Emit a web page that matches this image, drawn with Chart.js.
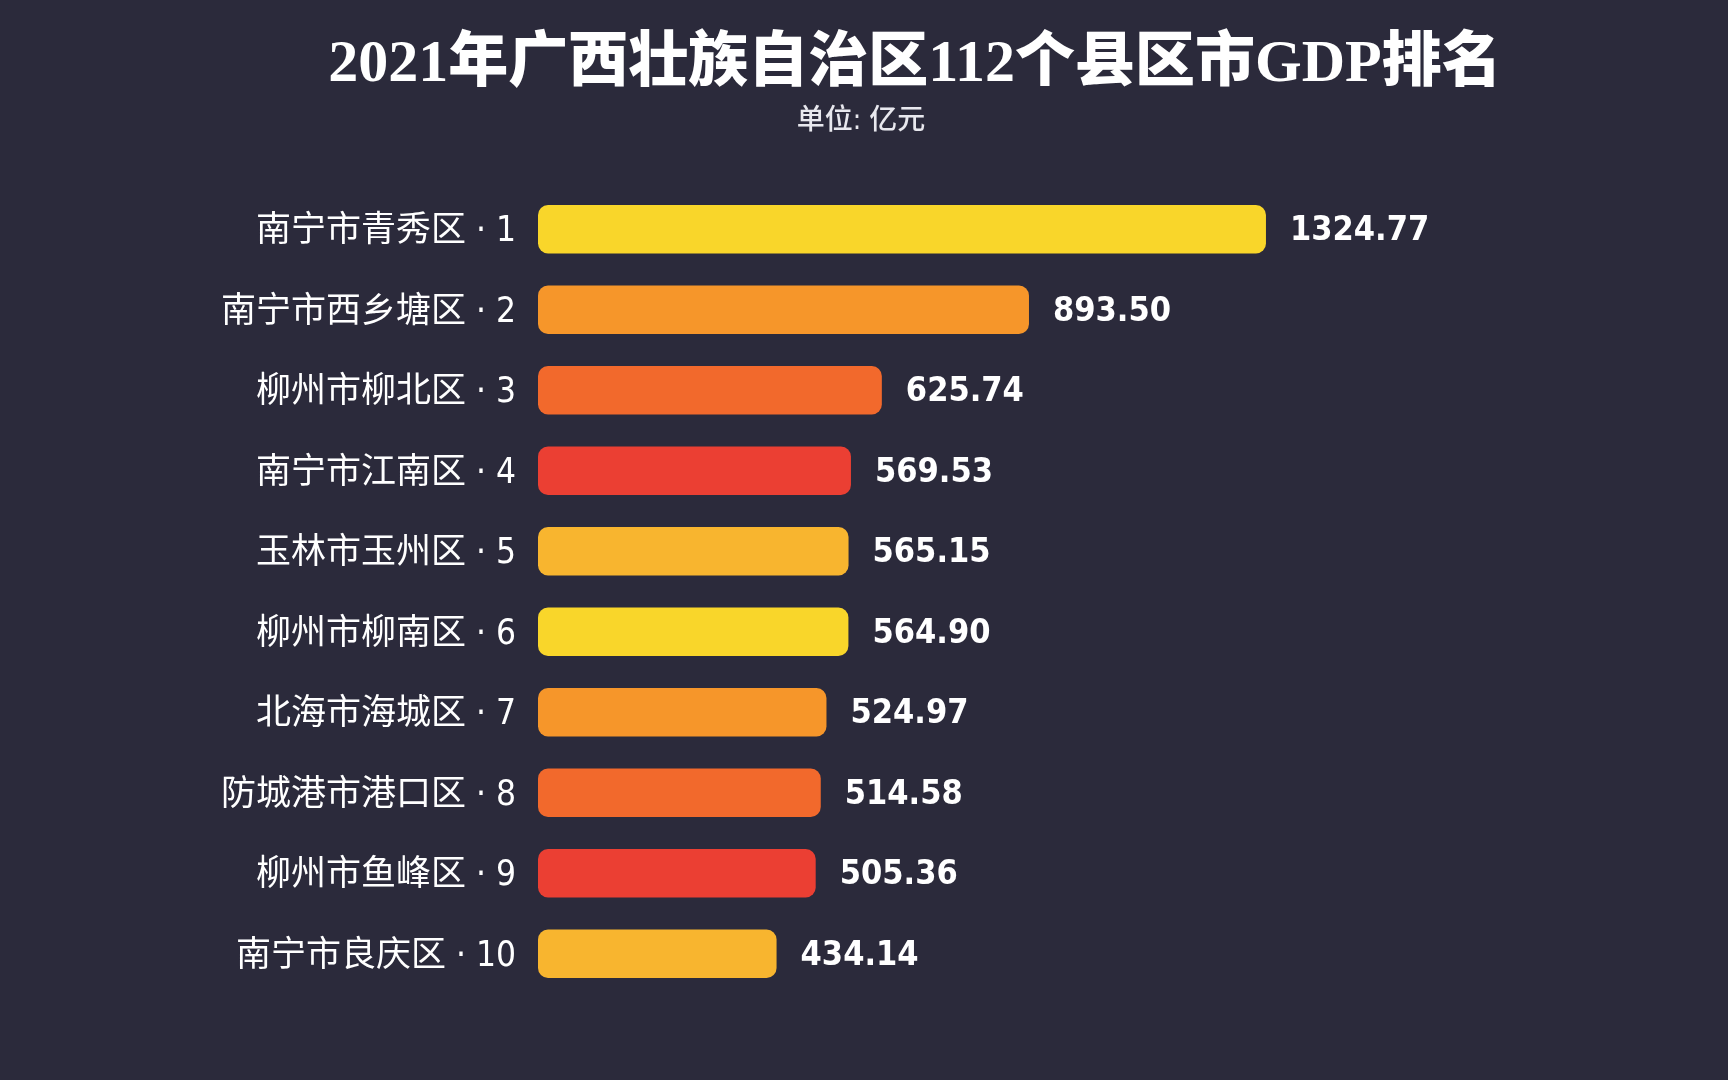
<!DOCTYPE html>
<html>
<head>
<meta charset="utf-8">
<script src="https://cdn.jsdelivr.net/npm/chart.js@4.4.1/dist/chart.umd.min.js"></script>
<style>
    html, body {
        margin: 0;
        padding: 0;
        background: #2b2a3b;
        overflow: hidden;
    }
    #wrap {
        position: relative;
        width: 1728px;
        height: 1080px;
    }
    #title {
        position: absolute;
        left: 0;
        width: 1830px;
        top: 25px;
        text-align: center;
        color: #ffffff;
        font-family: "Liberation Serif", "Noto Sans CJK SC", serif;
        font-weight: 900;
        font-size: 60px;
        line-height: 72px;
    }
    #subtitle {
        position: absolute;
        left: 0;
        width: 1722px;
        top: 102px;
        text-align: center;
        color: #e8e8ee;
        font-family: "DejaVu Sans Condensed", "Noto Sans CJK SC", sans-serif;
        font-weight: 500;
        font-size: 28px;
        line-height: 36px;
    }
</style>
</head>
<body>
<div id="wrap">
    <div id="title">2021年广西壮族自治区112个县区市GDP排名</div>
    <div id="subtitle">单位: 亿元</div>
    <canvas id="GdpRank" width="1728" height="1080"></canvas>
</div>
<script>
const districts = ["南宁市青秀区", "南宁市西乡塘区", "柳州市柳北区", "南宁市江南区", "玉林市玉州区",
    "柳州市柳南区", "北海市海城区", "防城港市港口区", "柳州市鱼峰区", "南宁市良庆区"];
const ranks = [1, 2, 3, 4, 5, 6, 7, 8, 9, 10];
const gdp = [1324.77, 893.50, 625.74, 569.53, 565.15, 564.90, 524.97, 514.58, 505.36, 434.14];
const barColors = ["#f9d62a", "#f6962a", "#f2692c", "#eb3f33", "#f8b52f",
    "#f9d62a", "#f6962a", "#f2692c", "#eb3f33", "#f8b52f"];

const labels = districts.map((d, i) => d + " · " + ranks[i]);

// draws the value text just past the end of each bar
const valueLabels = {
    id: "valueLabels",
    afterDatasetsDraw(chart) {
        const ctx = chart.ctx;
        const meta = chart.getDatasetMeta(0);
        ctx.save();
        ctx.fillStyle = "#ffffff";
        ctx.font = "bold 34px 'DejaVu Sans Condensed', 'DejaVu Sans', sans-serif";
        ctx.textAlign = "left";
        ctx.textBaseline = "middle";
        meta.data.forEach((bar, i) => {
            ctx.fillText(gdp[i].toFixed(2), bar.x + 24, bar.y + 2);
        });
        ctx.restore();
    }
};

function GdpRankChart() {
    const ctx = document.getElementById("GdpRank");

    new Chart(ctx, {
        type: "bar",
        data: {
            labels: labels,
            datasets: [
                {
                    label: "GDP",
                    data: gdp,
                    backgroundColor: barColors,
                    borderRadius: 10,
                    borderSkipped: false,
                    categoryPercentage: 1,
                    barPercentage: 0.6,
                },
            ],
        },
        options: {
            indexAxis: "y",
            responsive: false,
            animation: false,
            layout: {
                padding: { top: 189, bottom: 86, left: 0, right: 91 },
            },
            scales: {
                x: {
                    display: false,
                    min: 0,
                    max: 2000,
                },
                y: {
                    afterFit(scale) {
                        scale.width = 538;
                    },
                    grid: {
                        display: false,
                        drawTicks: false,
                    },
                    border: {
                        display: false,
                    },
                    ticks: {
                        color: "#ffffff",
                        padding: 22,
                        labelOffset: 3,
                        font: {
                            family: "'DejaVu Sans Condensed', 'Noto Sans CJK SC', sans-serif",
                            size: 35,
                        },
                    },
                },
            },
            plugins: {
                legend: { display: false },
                tooltip: { enabled: false },
            },
        },
        plugins: [valueLabels],
    });
}

GdpRankChart()
</script>
</body>
</html>
